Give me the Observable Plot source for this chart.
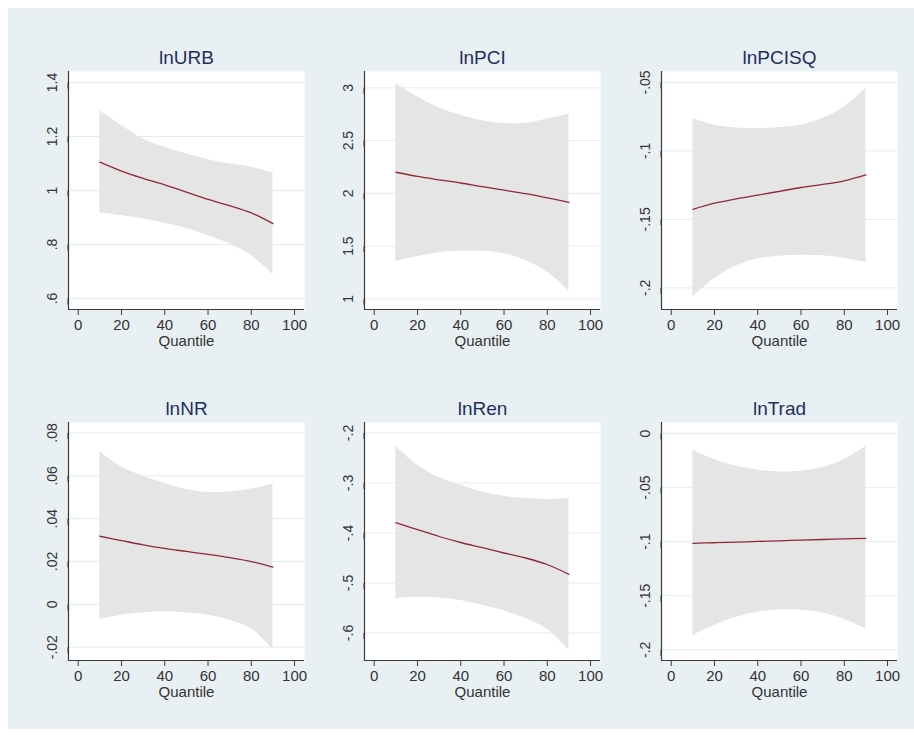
<!DOCTYPE html>
<html>
<head>
<meta charset="utf-8">
<script src="https://cdn.jsdelivr.net/npm/d3@7"></script>
<script src="https://cdn.jsdelivr.net/npm/@observablehq/plot@0.6"></script>
<style>
  html, body { margin: 0; padding: 0; background: #ffffff; }
  #bg { position: absolute; left: 8px; top: 8px; width: 906px; height: 721px; background: #e9f0f3; }
  .panel { position: absolute; }
  .panel svg { overflow: visible; }
</style>
</head>
<body>
<div id="bg"></div>
<div id="root"></div>
<script>
// ---- data ----
const quantiles = [10, 20, 30, 40, 50, 60, 70, 80, 90];
const titles = ["lnURB", "lnPCI", "lnPCISQ", "lnNR", "lnRen", "lnTrad"];

const urbCoef  = [1.105, 1.072, 1.045, 1.021, 0.994, 0.967, 0.944, 0.917, 0.877];
const urbUpper = [1.296, 1.241, 1.191, 1.160, 1.136, 1.114, 1.099, 1.086, 1.065];
const urbLower = [0.917, 0.907, 0.894, 0.879, 0.860, 0.833, 0.802, 0.759, 0.689];

const pciCoef  = [2.200, 2.160, 2.128, 2.098, 2.063, 2.030, 1.997, 1.958, 1.915];
const pciUpper = [3.041, 2.915, 2.810, 2.740, 2.687, 2.661, 2.664, 2.704, 2.750];
const pciLower = [1.354, 1.402, 1.437, 1.453, 1.450, 1.427, 1.364, 1.253, 1.079];

const pcisqCoef  = [-0.1427, -0.1382, -0.1350, -0.1323, -0.1295, -0.1267, -0.1245, -0.1218, -0.1175];
const pcisqUpper = [-0.0764, -0.0812, -0.0832, -0.0836, -0.0830, -0.0812, -0.0764, -0.0679, -0.0545];
const pcisqLower = [-0.2068, -0.1934, -0.1840, -0.1790, -0.1770, -0.1762, -0.1766, -0.1785, -0.1815];

const nrCoef  = [0.0318, 0.0298, 0.0278, 0.0261, 0.0247, 0.0233, 0.0218, 0.0200, 0.0174];
const nrUpper = [0.0712, 0.0642, 0.0598, 0.0564, 0.0536, 0.0522, 0.0524, 0.0538, 0.0561];
const nrLower = [-0.0071, -0.0051, -0.0039, -0.0034, -0.0039, -0.0051, -0.0074, -0.0113, -0.0211];

const renCoef  = [-0.3793, -0.3933, -0.4070, -0.4190, -0.4294, -0.4400, -0.4500, -0.4630, -0.4828];
const renUpper = [-0.2263, -0.2644, -0.2891, -0.3044, -0.3178, -0.3265, -0.3311, -0.3328, -0.3310];
const renLower = [-0.5316, -0.5283, -0.5300, -0.5350, -0.5443, -0.5556, -0.5710, -0.5924, -0.6345];

const tradCoef  = [-0.1015, -0.1010, -0.1004, -0.0998, -0.0992, -0.0986, -0.0980, -0.0975, -0.0969];
const tradUpper = [-0.0155, -0.0240, -0.0302, -0.0340, -0.0355, -0.0349, -0.0315, -0.0240, -0.0123];
const tradLower = [-0.1867, -0.1775, -0.1698, -0.1651, -0.1632, -0.1634, -0.1660, -0.1720, -0.1806];

const xTicks = [0, 20, 40, 60, 80, 100];
const xDomain = [-4.5, 104.6];

const yTicksURB = [0.6, 0.8, 1, 1.2, 1.4];
const yLabelsURB = [".6", ".8", "1", "1.2", "1.4"];
const yDomainURB = [0.559, 1.441];

const yTicksPCI = [1, 1.5, 2, 2.5, 3];
const yLabelsPCI = ["1", "1.5", "2", "2.5", "3"];
const yDomainPCI = [0.899, 3.155];

const yTicksPCISQ = [-0.2, -0.15, -0.1, -0.05];
const yLabelsPCISQ = ["-.2", "-.15", "-.1", "-.05"];
const yDomainPCISQ = [-0.2158, -0.042];

const yTicksNR = [-0.02, 0, 0.02, 0.04, 0.06, 0.08];
const yLabelsNR = ["-.02", "0", ".02", ".04", ".06", ".08"];
const yDomainNR = [-0.0262, 0.0849];

const yTicksRen = [-0.6, -0.5, -0.4, -0.3, -0.2];
const yLabelsRen = ["-.6", "-.5", "-.4", "-.3", "-.2"];
const yDomainRen = [-0.655, -0.179];

const yTicksTrad = [-0.2, -0.15, -0.1, -0.05, 0];
const yLabelsTrad = ["-.2", "-.15", "-.1", "-.05", "0"];
const yDomainTrad = [-0.2099, 0.0102];

// ---- build panels ----
const series = [
  {coef: urbCoef, upper: urbUpper, lower: urbLower, ticks: yTicksURB, labels: yLabelsURB, domain: yDomainURB},
  {coef: pciCoef, upper: pciUpper, lower: pciLower, ticks: yTicksPCI, labels: yLabelsPCI, domain: yDomainPCI},
  {coef: pcisqCoef, upper: pcisqUpper, lower: pcisqLower, ticks: yTicksPCISQ, labels: yLabelsPCISQ, domain: yDomainPCISQ},
  {coef: nrCoef, upper: nrUpper, lower: nrLower, ticks: yTicksNR, labels: yLabelsNR, domain: yDomainNR},
  {coef: renCoef, upper: renUpper, lower: renLower, ticks: yTicksRen, labels: yLabelsRen, domain: yDomainRen},
  {coef: tradCoef, upper: tradUpper, lower: tradLower, ticks: yTicksTrad, labels: yLabelsTrad, domain: yDomainTrad}
];

const frameLefts = [68, 364, 661];
const frameTops = [71, 422];
const mL = 60, mT = 45, mR = 10, mB = 55, fw = 236, fh = 238;
const root = document.getElementById("root");

series.forEach((s, i) => {
  const rows = quantiles.map((q, k) => ({q, coef: s.coef[k], lo: s.lower[k], hi: s.upper[k]}));
  const labelOf = new Map(s.ticks.map((t, k) => [t, s.labels[k]]));
  const chart = Plot.plot({
    width: mL + fw + mR,
    height: mT + fh + mB,
    marginLeft: mL, marginTop: mT, marginRight: mR, marginBottom: mB,
    style: {background: "transparent", fontFamily: "'Liberation Sans', Arial, sans-serif", fontSize: "14px", color: "#333"},
    x: {domain: xDomain, axis: null},
    y: {domain: s.domain, axis: null},
    marks: [
      Plot.frame({fill: "white", stroke: "none"}),
      Plot.gridY(s.ticks, {stroke: "#e3edf1", strokeOpacity: 1, strokeWidth: 1}),
      Plot.areaY(rows, {x: "q", y1: "lo", y2: "hi", fill: "#e5e5e5", curve: "catmull-rom"}),
      Plot.lineY(rows, {x: "q", y: "coef", stroke: "#8e2a38", strokeWidth: 1.3, curve: "catmull-rom"}),
      Plot.ruleX([xDomain[0]], {stroke: "#3a3a3a", strokeWidth: 1.2}),
      Plot.ruleY([s.domain[0]], {stroke: "#3a3a3a", strokeWidth: 1.2}),
      Plot.axisX({ticks: xTicks, tickSize: 6, tickPadding: 4, tickFormat: d => String(d), stroke: "#3a3a3a", fontSize: 15, fill: "#333", label: null}),
      Plot.axisY({ticks: s.ticks, tickSize: 6, tickPadding: 6, tickFormat: d => labelOf.get(d), rotate: -90, textAnchor: "middle", lineAnchor: "bottom", stroke: "#3a3a3a", fontSize: 14, fill: "#333", label: null}),
      Plot.text([titles[i]], {frameAnchor: "top", dy: -8, lineAnchor: "bottom", fontSize: 19, fill: "#1f2f5c"}),
      Plot.text(["Quantile"], {frameAnchor: "bottom", dy: 32, lineAnchor: "middle", fontSize: 15, fill: "#333"})
    ]
  });
  const div = document.createElement("div");
  div.className = "panel";
  div.style.left = (frameLefts[i % 3] - mL) + "px";
  div.style.top = (frameTops[Math.floor(i / 3)] - mT) + "px";
  div.appendChild(chart);
  root.appendChild(div);
});
</script>
</body>
</html>
